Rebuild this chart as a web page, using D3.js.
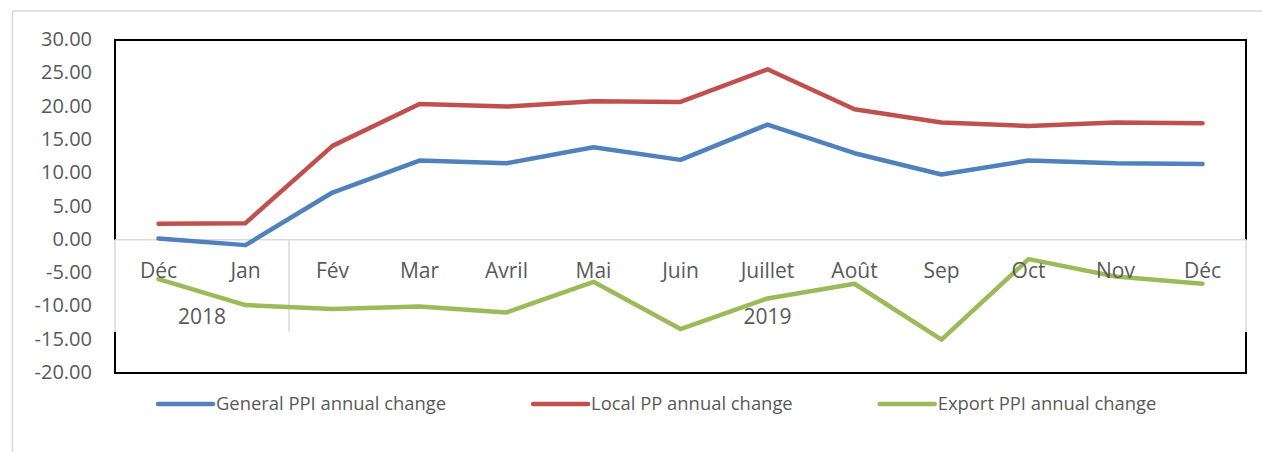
<!DOCTYPE html>
<html>
<head>
<meta charset="utf-8">
<script src="https://cdn.jsdelivr.net/npm/d3@7"></script>
<style>
  body { margin: 0; background: #fff; overflow: hidden; }
  svg { display: block; font-family: "Open Sans", sans-serif; }
</style>
</head>
<body>
<div id="chart"></div>
<script>
const months = ["Déc", "Jan", "Fév", "Mar", "Avril", "Mai", "Juin", "Juillet", "Août", "Sep", "Oct", "Nov", "Déc"];
const yearLabels = ["2018", "2019"];
const yearSpans = [2, 11];
const generalPPI = [0.2, -0.8, 7.1, 11.9, 11.5, 13.9, 12.0, 17.3, 13.0, 9.8, 11.9, 11.5, 11.4];
const localPP = [2.4, 2.5, 14.1, 20.4, 20.0, 20.8, 20.7, 25.6, 19.6, 17.6, 17.1, 17.6, 17.5];
const exportPPI = [-5.9, -9.8, -10.4, -10.0, -10.9, -6.3, -13.4, -8.8, -6.6, -15.0, -2.9, -5.5, -6.6];
const yTicks = [30, 25, 20, 15, 10, 5, 0, -5, -10, -15, -20];
const seriesNames = ["General PPI annual change", "Local PP annual change", "Export PPI annual change"];
const seriesColors = ["#4f81bd", "#c0504d", "#9bbb59"];

class ppiChart {
  constructor(dom) {
    this.element = dom;
    this.draw();
  }

  draw() {
    this.w = 1262;
    this.h = 452;
    this.plotBox = { left: 115, right: 1246, top: 40, bottom: 373 };

    const svg = d3.select(this.element).append("svg")
      .attr("width", this.w)
      .attr("height", this.h);
    this.svg = svg;

    // outer chart frame (runs off the picture at right and bottom)
    svg.append("rect")
      .attr("x", 12.5).attr("y", 11)
      .attr("width", 1400).attr("height", 600)
      .attr("fill", "none")
      .attr("stroke", "#d9d9d9")
      .attr("stroke-width", 1.5);

    this.x = d3.scaleBand()
      .domain(d3.range(months.length))
      .range([this.plotBox.left, this.plotBox.right]);

    this.y = d3.scaleLinear()
      .domain([-20, 30])
      .range([this.plotBox.bottom, this.plotBox.top]);

    this.drawFrame();
    this.drawLines();
    this.drawAxes();
    this.drawLegend();
  }

  drawFrame() {
    const p = this.plotBox;
    this.svg.append("rect")
      .attr("x", p.left).attr("y", p.top)
      .attr("width", p.right - p.left).attr("height", p.bottom - p.top)
      .attr("fill", "none")
      .attr("stroke", "#000")
      .attr("stroke-width", 2);

    // category axis band covers the frame between zero line and group row
    const bandBottom = this.y(0) + 92;
    this.bandBottom = bandBottom;
    this.svg.append("rect")
      .attr("x", p.left - 2).attr("y", this.y(0))
      .attr("width", p.right - p.left + 4).attr("height", bandBottom - this.y(0))
      .attr("fill", "#fff");

    this.svg.append("line")
      .attr("x1", p.left).attr("x2", p.right)
      .attr("y1", this.y(0)).attr("y2", this.y(0))
      .attr("stroke", "#d9d9d9").attr("stroke-width", 1.5);

    // group separators
    let idx = 0;
    const seps = [0];
    yearSpans.forEach(s => { idx += s; seps.push(idx); });
    this.svg.selectAll(".sep")
      .data(seps)
      .enter().append("line")
      .attr("class", "sep")
      .attr("x1", d => d === months.length ? p.right : this.x(d))
      .attr("x2", d => d === months.length ? p.right : this.x(d))
      .attr("y1", this.y(0))
      .attr("y2", bandBottom)
      .attr("stroke", "#d9d9d9").attr("stroke-width", 1.5);
  }

  drawLines() {
    const _this = this;
    const line = d3.line()
      .x((d, i) => _this.x(i) + _this.x.bandwidth() / 2)
      .y(d => _this.y(d));

    this.svg.selectAll(".series")
      .data([generalPPI, localPP, exportPPI])
      .enter().append("path")
      .attr("class", "series")
      .attr("d", line)
      .attr("fill", "none")
      .attr("stroke", (d, i) => seriesColors[i])
      .attr("stroke-width", 4.5)
      .attr("stroke-linecap", "round")
      .attr("stroke-linejoin", "round");
  }

  drawAxes() {
    const _this = this;
    const textColor = "#595959";

    this.svg.selectAll(".ylab")
      .data(yTicks)
      .enter().append("text")
      .attr("class", "ylab")
      .attr("x", 92)
      .attr("y", d => _this.y(d) - 1)
      .attr("dy", "0.35em")
      .attr("text-anchor", "end")
      .attr("font-size", "20px")
      .attr("fill", textColor)
      .text(d => d.toFixed(2));

    this.svg.selectAll(".xlab")
      .data(months)
      .enter().append("text")
      .attr("class", "xlab")
      .attr("x", (d, i) => _this.x(i) + _this.x.bandwidth() / 2)
      .attr("y", this.y(0) + 31)
      .attr("dy", "0.35em")
      .attr("text-anchor", "middle")
      .attr("font-size", "21px")
      .attr("fill", textColor)
      .text(d => d);

    let start = 0;
    const groups = yearLabels.map((name, i) => {
      const g = { name: name, from: start, to: start + yearSpans[i] };
      start += yearSpans[i];
      return g;
    });
    this.svg.selectAll(".year")
      .data(groups)
      .enter().append("text")
      .attr("class", "year")
      .attr("x", d => {
        const x0 = _this.x(d.from);
        const x1 = d.to === months.length ? _this.plotBox.right : _this.x(d.to);
        return (x0 + x1) / 2;
      })
      .attr("y", this.y(0) + 77)
      .attr("dy", "0.35em")
      .attr("text-anchor", "middle")
      .attr("font-size", "21px")
      .attr("fill", textColor)
      .text(d => d.name);
  }

  drawLegend() {
    const ly = 404;
    let cx = 158;
    seriesNames.forEach((name, i) => {
      const g = this.svg.append("g").attr("class", "legend-item");
      g.append("line")
        .attr("x1", cx).attr("x2", cx + 55)
        .attr("y1", ly).attr("y2", ly)
        .attr("stroke", seriesColors[i])
        .attr("stroke-width", 4.5)
        .attr("stroke-linecap", "round");
      const t = g.append("text")
        .attr("x", cx + 58)
        .attr("y", ly)
        .attr("dy", "0.35em")
        .attr("font-size", "18.4px")
        .attr("fill", "#595959")
        .text(name);
      cx += 58 + t.node().getComputedTextLength() + 87;
    });
  }
}

new ppiChart(document.getElementById("chart"));
</script>
</body>
</html>
